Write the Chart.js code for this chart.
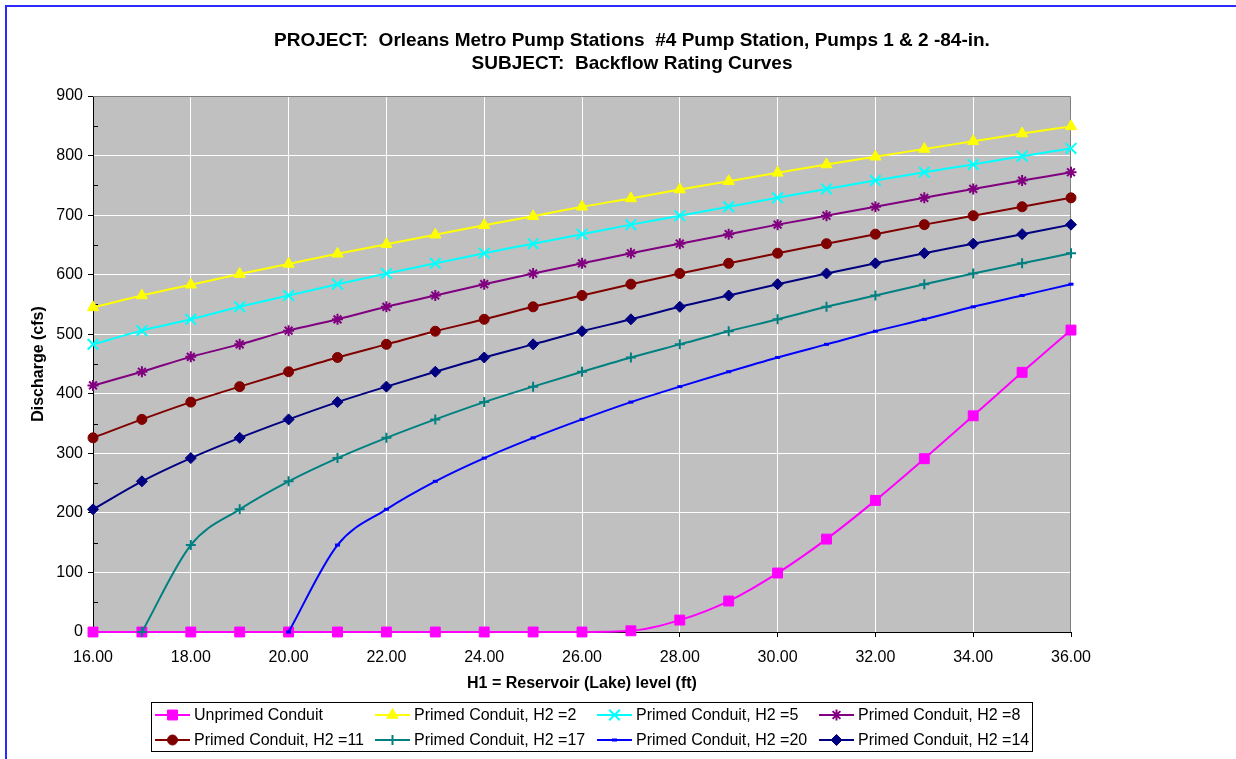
<!DOCTYPE html>
<html>
<head>
<meta charset="utf-8">
<script src="https://cdn.jsdelivr.net/npm/chart.js@4/dist/chart.umd.min.js"></script>
<style>
html, body { margin: 0; padding: 0; background: #fff; }
#wrap { position: relative; width: 1236px; height: 759px; overflow: hidden; }
#frame { position: absolute; left: 5px; top: 5px; right: -5px; bottom: -5px;
         border-top: 2px solid #2a2aff; border-left: 2px solid #2a2aff; pointer-events: none; }
canvas { position: absolute; left: 0; top: 0; }
</style>
</head>
<body>
<div id="wrap">
  <canvas id="chart" width="1236" height="759"></canvas>
  <div id="frame"></div>
</div>
<script>
const FONT = 'Arial, "Liberation Sans", sans-serif';

const titleLines = [
    'PROJECT:  Orleans Metro Pump Stations  #4 Pump Station, Pumps 1 & 2 -84-in.',
    'SUBJECT:  Backflow Rating Curves'
];

// H1 = reservoir level (ft)
const levels = [16, 17, 18, 19, 20, 21, 22, 23, 24, 25, 26, 27, 28, 29, 30, 31, 32, 33, 34, 35, 36];

// discharge (cfs)
const unprimed = [0, 0, 0, 0, 0, 0, 0, 0, 0, 0, 0, 2, 20, 52, 99, 156, 221, 291, 363, 436, 507];
const primedH2_2 = [545, 565, 583, 601, 618, 635, 651, 667, 683, 698, 714, 728, 743, 757, 771, 785, 798, 811, 824, 837, 849];
const primedH2_5 = [483, 506, 525, 546, 565, 584, 602, 619, 636, 652, 668, 684, 699, 714, 729, 744, 758, 772, 785, 799, 812];
const primedH2_8 = [414, 437, 462, 483, 506, 525, 546, 565, 584, 602, 619, 636, 652, 668, 684, 699, 714, 729, 744, 758, 772];
const primedH2_11 = [326, 357, 386, 412, 437, 461, 483, 505, 525, 546, 565, 584, 602, 619, 636, 652, 668, 684, 699, 714, 729];
const primedH2_17 = [null, 0, 146, 206, 253, 292, 326, 357, 386, 412, 437, 461, 483, 505, 525, 546, 565, 584, 602, 619, 636];
const primedH2_20 = [null, null, null, null, 0, 146, 206, 253, 292, 326, 357, 386, 412, 437, 461, 483, 505, 525, 546, 565, 584];
const primedH2_14 = [206, 253, 292, 326, 357, 386, 412, 437, 461, 483, 505, 525, 546, 565, 584, 602, 619, 636, 652, 668, 684];

function series(label, values, color, style, radius, width) {
    return {
	label: label,
	data: values.map((v, i) => ({x: levels[i], y: v})),
	borderColor: color,
	backgroundColor: color,
	borderWidth: 2,
	pointStyle: style,
	pointRadius: radius,
	pointBorderWidth: width,
	pointBackgroundColor: color,
	pointBorderColor: color,
	cubicInterpolationMode: 'monotone',
	spanGaps: false,
	clip: false
    };
}

const datasets = [
    series('Unprimed Conduit', unprimed, '#ff00ff', 'rect', 7, 1),
    series('Primed Conduit, H2 =2', primedH2_2, '#ffff00', 'triangle', 6.5, 1),
    series('Primed Conduit, H2 =5', primedH2_5, '#00ffff', 'crossRot', 7.5, 2),
    series('Primed Conduit, H2 =8', primedH2_8, '#800080', 'star', 5.5, 2),
    series('Primed Conduit, H2 =11', primedH2_11, '#800000', 'circle', 5, 1),
    series('Primed Conduit, H2 =17', primedH2_17, '#008080', 'cross', 5, 2),
    series('Primed Conduit, H2 =20', primedH2_20, '#0000ff', 'line', 2.5, 3),
    series('Primed Conduit, H2 =14', primedH2_14, '#000080', 'rectRot', 5.5, 1)
];
// later series drawn on top, as in the original
datasets.forEach((d, i) => { d.order = -i; });

const plotFrame = {
    id: 'plotFrame',
    beforeDraw(chart) {
	const {ctx, chartArea: a} = chart;
	ctx.save();
	ctx.fillStyle = '#c0c0c0';
	ctx.fillRect(a.left, a.top, a.right - a.left, a.bottom - a.top);
	ctx.restore();
    },
    beforeDatasetsDraw(chart) {
	const {ctx, chartArea: a} = chart;
	const y = chart.scales.y;
	ctx.save();
	ctx.strokeStyle = '#808080';
	ctx.lineWidth = 1;
	ctx.beginPath();
	ctx.moveTo(a.left, a.top + 0.5);
	ctx.lineTo(a.right - 0.5, a.top + 0.5);
	ctx.lineTo(a.right - 0.5, a.bottom);
	ctx.stroke();
	// minor ticks on the value axis
	ctx.strokeStyle = '#000';
	ctx.beginPath();
	for (let v = 50; v < 900; v += 100) {
	    const py = Math.round(y.getPixelForValue(v)) + 0.5;
	    ctx.moveTo(a.left, py);
	    ctx.lineTo(a.left + 5, py);
	}
	ctx.stroke();
	ctx.restore();
    }
};

const titleAndLegend = {
    id: 'titleAndLegend',
    afterDraw(chart) {
	const ctx = chart.ctx;
	ctx.save();
	ctx.fillStyle = '#000';
	ctx.textAlign = 'center';
	ctx.textBaseline = 'middle';
	ctx.font = 'bold 19px ' + FONT;
	ctx.fillText(titleLines[0], 632, 41);
	ctx.fillText(titleLines[1], 632, 64);

	// legend box
	ctx.fillStyle = '#fff';
	ctx.fillRect(151.5, 702.5, 881, 49);
	ctx.strokeStyle = '#000';
	ctx.lineWidth = 1;
	ctx.strokeRect(151.5, 702.5, 881, 49);

	ctx.font = '16px ' + FONT;
	ctx.textAlign = 'left';
	const cols = [155, 375, 597, 819];
	const rows = [715, 740];
	chart.data.datasets.forEach((d, i) => {
	    const x0 = cols[i % 4];
	    const y0 = rows[Math.floor(i / 4)];
	    ctx.strokeStyle = d.borderColor;
	    ctx.fillStyle = d.borderColor;
	    ctx.lineWidth = 2;
	    ctx.beginPath();
	    ctx.moveTo(x0, y0);
	    ctx.lineTo(x0 + 35, y0);
	    ctx.stroke();
	    ctx.lineWidth = d.pointBorderWidth;
	    Chart.helpers.drawPoint(ctx, {
		pointStyle: d.pointStyle, radius: d.pointRadius, rotation: 0,
		borderWidth: d.pointBorderWidth
	    }, x0 + 17.5, y0);
	    ctx.fillStyle = '#000';
	    ctx.fillText(d.label, x0 + 39, y0 + 1);
	});
	ctx.restore();
    }
};

new Chart(document.getElementById('chart'), {
    type: 'line',
    data: { datasets: datasets },
    options: {
	responsive: false,
	animation: false,
	layout: { padding: { top: 96, left: 0, right: 165, bottom: 59 } },
	plugins: {
	    legend: { display: false },
	    title: { display: false },
	    tooltip: { enabled: false }
	},
	scales: {
	    x: {
		type: 'linear',
		min: 16,
		max: 36,
		afterFit: (s) => { s.height = 68; },
		ticks: {
		    stepSize: 2,
		    maxRotation: 0,
		    padding: 11,
		    color: '#000',
		    font: { family: FONT, size: 16 },
		    callback: (v) => v.toFixed(2)
		},
		grid: { color: '#ffffff', tickColor: '#000', tickLength: 5 },
		border: { color: '#000', width: 1 },
		title: {
		    display: true,
		    text: 'H1 = Reservoir (Lake) level (ft)',
		    color: '#000',
		    font: { family: FONT, size: 16, weight: 'bold' },
		    padding: { top: 0, bottom: 7 }
		}
	    },
	    y: {
		min: 0,
		max: 900,
		afterFit: (s) => { s.width = 93; },
		ticks: {
		    stepSize: 100,
		    padding: 5,
		    color: '#000',
		    font: { family: FONT, size: 16 }
		},
		grid: { color: '#ffffff', tickColor: '#000', tickLength: 5 },
		border: { color: '#000', width: 1 },
		title: {
		    display: true,
		    text: 'Discharge (cfs)',
		    color: '#000',
		    font: { family: FONT, size: 16, weight: 'bold' },
		    padding: { top: 29, bottom: 0 }
		}
	    }
	}
    },
    plugins: [plotFrame, titleAndLegend]
});
</script>
</body>
</html>
